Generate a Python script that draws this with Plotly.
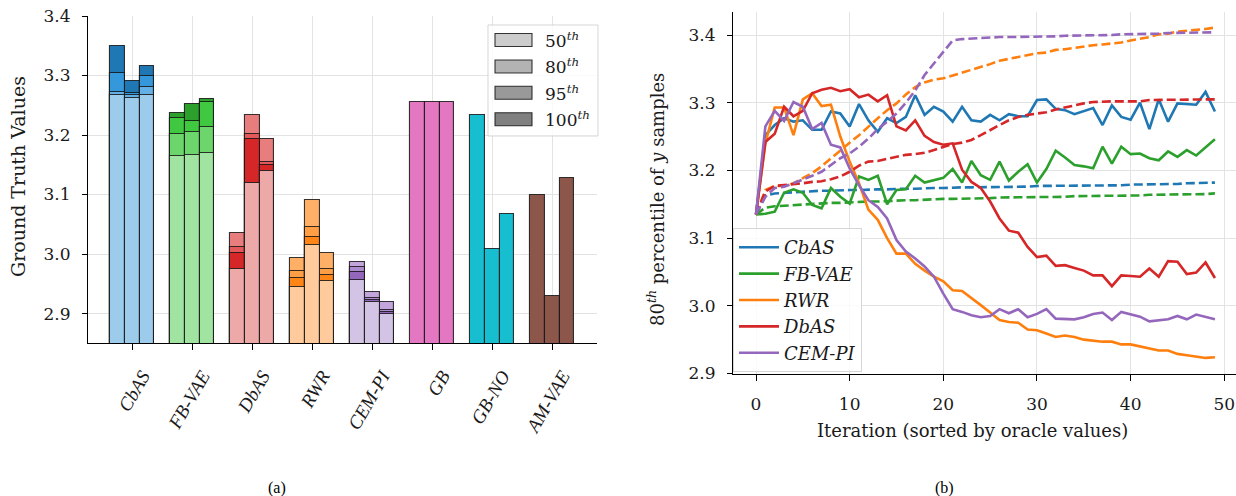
import plotly.graph_objects as go

# ---------------- data: panel (a) ----------------
methods = ["CbAS", "FB-VAE", "DbAS", "RWR", "CEM-PI", "GB", "GB-NO", "AM-VAE"]
pct_names = ["50<sup><i>th</i></sup>", "80<sup><i>th</i></sup>", "95<sup><i>th</i></sup>", "100<sup><i>th</i></sup>"]
# three runs per method, each [50th, 80th, 95th, 100th] percentile
cbas_runs = [[3.268, 3.272, 3.304, 3.349], [3.262, 3.267, 3.271, 3.290], [3.268, 3.280, 3.300, 3.316]]
fbvae_runs = [[3.164, 3.202, 3.229, 3.237], [3.166, 3.205, 3.224, 3.252], [3.170, 3.213, 3.256, 3.260]]
dbas_runs = [[2.975, 3.002, 3.012, 3.035], [3.119, 3.194, 3.202, 3.233], [3.140, 3.150, 3.154, 3.194]]
rwr_runs = [[2.945, 2.960, 2.972, 2.993], [3.016, 3.029, 3.045, 3.090], [2.954, 2.964, 2.975, 3.001]]
cempi_runs = [[2.956, 2.970, 2.978, 2.987], [2.920, 2.923, 2.926, 2.936], [2.900, 2.903, 2.906, 2.920]]
gb_runs = [3.255, 3.255, 3.255]
gbno_runs = [3.233, 3.009, 3.068]
amvae_runs = [3.100, 2.929, 3.128]

# ---------------- data: panel (b) ----------------
iterations = list(range(50))
cbas_solid = [3.135, 3.252, 3.267, 3.277, 3.272, 3.274, 3.260, 3.260, 3.287, 3.284,
              3.265, 3.298, 3.274, 3.257, 3.277, 3.270, 3.279, 3.311, 3.282, 3.294,
              3.287, 3.272, 3.294, 3.274, 3.272, 3.282, 3.274, 3.283, 3.280, 3.280,
              3.304, 3.305, 3.291, 3.289, 3.283, 3.287, 3.292, 3.267, 3.296, 3.279,
              3.275, 3.300, 3.261, 3.305, 3.272, 3.299, 3.298, 3.297, 3.316, 3.287]
cbas_dashed = [3.135, 3.163, 3.166, 3.167, 3.168, 3.169, 3.169, 3.170, 3.170, 3.171,
               3.171, 3.171, 3.172, 3.172, 3.172, 3.173, 3.173, 3.173, 3.174, 3.174,
               3.174, 3.175, 3.175, 3.175, 3.175, 3.176, 3.176, 3.176, 3.176, 3.176,
               3.177, 3.177, 3.177, 3.177, 3.177, 3.178, 3.178, 3.178, 3.178, 3.178,
               3.179, 3.179, 3.179, 3.180, 3.180, 3.180, 3.181, 3.181, 3.182, 3.182]
fbvae_solid = [3.135, 3.136, 3.139, 3.167, 3.172, 3.167, 3.149, 3.144, 3.174, 3.161,
               3.151, 3.191, 3.186, 3.192, 3.150, 3.171, 3.172, 3.192, 3.182, 3.185,
               3.189, 3.202, 3.182, 3.214, 3.193, 3.186, 3.213, 3.185, 3.198, 3.209,
               3.182, 3.202, 3.229, 3.219, 3.208, 3.206, 3.203, 3.235, 3.210, 3.235,
               3.224, 3.225, 3.218, 3.215, 3.228, 3.220, 3.230, 3.222, 3.234, 3.246]
fbvae_dashed = [3.135, 3.145, 3.147, 3.148, 3.149, 3.150, 3.150, 3.151, 3.152, 3.152,
                3.153, 3.153, 3.154, 3.154, 3.155, 3.155, 3.156, 3.156, 3.157, 3.157,
                3.158, 3.158, 3.158, 3.159, 3.159, 3.159, 3.160, 3.160, 3.160, 3.160,
                3.161, 3.161, 3.161, 3.161, 3.162, 3.162, 3.162, 3.162, 3.163, 3.163,
                3.163, 3.163, 3.164, 3.164, 3.164, 3.164, 3.165, 3.165, 3.165, 3.166]
rwr_solid = [3.135, 3.240, 3.293, 3.293, 3.252, 3.305, 3.314, 3.295, 3.297, 3.250,
             3.213, 3.181, 3.142, 3.127, 3.100, 3.077, 3.077, 3.062, 3.052, 3.043,
             3.036, 3.023, 3.022, 3.012, 3.001, 2.990, 2.979, 2.976, 2.975, 2.965,
             2.964, 2.959, 2.954, 2.956, 2.954, 2.950, 2.948, 2.947, 2.947, 2.943,
             2.943, 2.940, 2.937, 2.934, 2.934, 2.929, 2.927, 2.925, 2.923, 2.924]
rwr_dashed = [3.135, 3.171, 3.177, 3.177, 3.181, 3.188, 3.196, 3.206, 3.218, 3.230,
              3.241, 3.252, 3.265, 3.277, 3.289, 3.299, 3.312, 3.323, 3.330, 3.334,
              3.336, 3.340, 3.344, 3.348, 3.352, 3.357, 3.362, 3.365, 3.368, 3.370,
              3.373, 3.374, 3.378, 3.379, 3.381, 3.384, 3.385, 3.386, 3.387, 3.389,
              3.392, 3.394, 3.397, 3.401, 3.402, 3.405, 3.406, 3.408, 3.409, 3.411]
dbas_solid = [3.135, 3.242, 3.254, 3.294, 3.280, 3.288, 3.314, 3.319, 3.322, 3.317,
              3.320, 3.308, 3.312, 3.302, 3.311, 3.265, 3.259, 3.274, 3.251, 3.242,
              3.238, 3.240, 3.201, 3.183, 3.174, 3.154, 3.129, 3.111, 3.108, 3.087,
              3.072, 3.074, 3.059, 3.060, 3.056, 3.052, 3.045, 3.045, 3.029, 3.045,
              3.044, 3.043, 3.055, 3.043, 3.066, 3.065, 3.047, 3.049, 3.064, 3.041]
dbas_dashed = [3.135, 3.169, 3.177, 3.178, 3.179, 3.181, 3.183, 3.184, 3.187, 3.191,
               3.198, 3.207, 3.213, 3.214, 3.217, 3.220, 3.223, 3.224, 3.226, 3.230,
               3.234, 3.239, 3.241, 3.245, 3.252, 3.260, 3.267, 3.274, 3.279, 3.282,
               3.284, 3.286, 3.290, 3.293, 3.297, 3.299, 3.301, 3.302, 3.302, 3.302,
               3.302, 3.302, 3.304, 3.304, 3.304, 3.304, 3.305, 3.305, 3.305, 3.305]
cempi_solid = [3.135, 3.265, 3.288, 3.273, 3.301, 3.294, 3.261, 3.270, 3.238, 3.234,
               3.203, 3.178, 3.156, 3.146, 3.129, 3.097, 3.080, 3.070, 3.058, 3.043,
               3.018, 2.995, 2.991, 2.986, 2.983, 2.985, 2.995, 2.989, 2.995, 2.983,
               2.988, 2.995, 2.981, 2.981, 2.980, 2.983, 2.988, 2.990, 2.979, 2.991,
               2.987, 2.984, 2.977, 2.979, 2.980, 2.985, 2.980, 2.987, 2.983, 2.980]
cempi_dashed = [3.135, 3.161, 3.174, 3.176, 3.181, 3.186, 3.192, 3.198, 3.208, 3.218,
                3.225, 3.235, 3.247, 3.261, 3.272, 3.284, 3.300, 3.318, 3.341, 3.358,
                3.375, 3.392, 3.394, 3.395, 3.396, 3.396, 3.397, 3.397, 3.397, 3.398,
                3.398, 3.398, 3.398, 3.399, 3.399, 3.399, 3.400, 3.400, 3.400, 3.401,
                3.401, 3.402, 3.402, 3.402, 3.403, 3.403, 3.403, 3.404, 3.404, 3.404]
yticks_a = [2.9, 3.0, 3.1, 3.2, 3.3, 3.4]
yticks_b = [2.9, 3.0, 3.1, 3.2, 3.3, 3.4]
xticks_b = [0, 10, 20, 30, 40, 50]

# ---------------- styles ----------------
W, H = 1236, 496
def px(x):
    return x / W
def py(y):
    return 1 - y / H

pct_colors = {  # per method: [50th, 80th, 95th, 100th]
    "CbAS": ["#9dcbeb", "#62b0e5", "#3498db", "#1f77b4"],
    "FB-VAE": ["#a1e4a1", "#6cd56c", "#40c940", "#2ca02c"],
    "DbAS": ["#eda8a8", "#d62728", "#e35858", "#e87d7d"],
    "RWR": ["#ffcb9d", "#ff8517", "#ff9e45", "#ffb066"],
    "CEM-PI": ["#d3c3e5", "#9467bd", "#ae8bd1", "#c3a5db"],
}
single_colors = {"GB": "#e377c2", "GB-NO": "#17becf", "AM-VAE": "#8c564b"}
legend_grays = ["#cccccc", "#b3b3b3", "#999999", "#808080"]
edge = "rgba(20,20,20,0.85)"
serif = "DejaVu Serif"
txt = "#1a1a1a"
grid = "#e3e3e3"

fig = go.Figure()

bw = 0.245
offs = [-bw, 0.0, bw]
pct_runs = [cbas_runs, fbvae_runs, dbas_runs, rwr_runs, cempi_runs]
for p in [3, 2, 1, 0]:
    xs, ys, cols = [], [], []
    for mi, runs in enumerate(pct_runs):
        for r in range(3):
            xs.append(mi + offs[r])
            ys.append(runs[r][p])
            cols.append(pct_colors[methods[mi]][p])
    fig.add_trace(go.Bar(x=xs, y=ys, width=bw, xaxis="x", yaxis="y", showlegend=False,
                         marker=dict(color=cols, line=dict(color=edge, width=1.1))))

xs, ys, cols = [], [], []
for mi, vals in zip([5, 6, 7], [gb_runs, gbno_runs, amvae_runs]):
    for r in range(3):
        xs.append(mi + offs[r])
        ys.append(vals[r])
        cols.append(single_colors[methods[mi]])
fig.add_trace(go.Bar(x=xs, y=ys, width=bw, xaxis="x", yaxis="y", showlegend=False,
                     marker=dict(color=cols, line=dict(color=edge, width=1.1))))

# ---------------- panel (b) lines ----------------
series = [("CbAS", "#1f77b4", cbas_solid, cbas_dashed),
          ("FB-VAE", "#2ca02c", fbvae_solid, fbvae_dashed),
          ("RWR", "#ff7f0e", rwr_solid, rwr_dashed),
          ("DbAS", "#d62728", dbas_solid, dbas_dashed),
          ("CEM-PI", "#9467bd", cempi_solid, cempi_dashed)]
for name, col, solid, dashed in series:
    fig.add_trace(go.Scatter(x=iterations, y=solid, mode="lines", name=name,
                             line=dict(color=col, width=2.6), xaxis="x2", yaxis="y2"))
    fig.add_trace(go.Scatter(x=iterations, y=dashed, mode="lines", name=name, showlegend=False,
                             line=dict(color=col, width=2.6, dash="9px,4px"), xaxis="x2", yaxis="y2"))

axis_common = dict(showline=True, linecolor="black", linewidth=1.2, ticks="outside",
                   tickcolor="black", tickwidth=1.2, showgrid=True,
                   gridcolor=grid, gridwidth=1.2, zeroline=False, automargin=False)

fig.update_layout(
    width=W, height=H, margin=dict(l=0, r=0, t=0, b=0),
    paper_bgcolor="white", plot_bgcolor="white", barmode="overlay", bargap=0,
    font=dict(family=serif, size=17, color=txt),
    xaxis=dict(domain=[px(88), px(597)], range=[-0.738, 7.745], anchor="y",
               tickmode="array", tickvals=list(range(len(methods))), ticktext=methods,
               tickangle=-60, ticklen=6, ticklabelshift=10, ticklabelstandoff=7,
               tickfont=dict(family="Liberation Serif", size=19, style="italic", color=txt),
               **axis_common),
    yaxis=dict(domain=[py(343.3), py(16)], range=[2.85, 3.4], anchor="x",
               tickmode="array", tickvals=yticks_a, ticktext=[f"{v:.1f}" for v in yticks_a],
               ticklen=5, ticklabelstandoff=8, tickfont=dict(family=serif, size=17, color=txt),
               **axis_common),
    xaxis2=dict(domain=[px(733), 1.0], range=[-2.456, 51.25], anchor="y2",
                tickmode="array", tickvals=xticks_b, ticktext=[str(v) for v in xticks_b],
                ticklen=6, ticklabelstandoff=8, tickfont=dict(family=serif, size=17, color=txt),
                **axis_common),
    yaxis2=dict(domain=[py(374.3), py(12)], range=[2.8988, 3.434], anchor="x2",
                tickmode="array", tickvals=yticks_b, ticktext=[f"{v:.1f}" for v in yticks_b],
                ticklen=5, ticklabelstandoff=8, tickfont=dict(family=serif, size=17, color=txt),
                **axis_common),
    legend=dict(x=px(733), y=py(228), xanchor="left", yanchor="top",
                bgcolor="rgba(255,255,255,0.8)", bordercolor="rgba(204,204,204,0.8)",
                borderwidth=1, font=dict(family=serif, size=18, style="italic", color=txt),
                itemwidth=40, tracegroupgap=0),
)

# ---------------- manual percentile legend (panel a) ----------------
shapes = [dict(type="rect", xref="paper", yref="paper", x0=px(488), x1=px(598),
               y0=py(136), y1=py(25), fillcolor="rgba(255,255,255,0.8)",
               line=dict(color="rgba(204,204,204,0.8)", width=1), layer="above")]
rows = [40, 66.5, 92.7, 119.3]
annotations = []
for k, (ry, g, lab) in enumerate(zip(rows, legend_grays, pct_names)):
    shapes.append(dict(type="rect", xref="paper", yref="paper", x0=px(495), x1=px(532),
                       y0=py(ry + 6.5), y1=py(ry - 6.5), fillcolor=g,
                       line=dict(color=edge, width=1.1), layer="above"))
    annotations.append(dict(xref="paper", yref="paper", x=px(543), y=py(ry), text=lab,
                            showarrow=False, xanchor="left", yanchor="middle",
                            font=dict(family=serif, size=17, color=txt)))

annotations += [
    dict(xref="paper", yref="paper", x=px(18), y=py(177), text="Ground Truth Values",
         textangle=-90, showarrow=False, xanchor="center", yanchor="middle",
         font=dict(family=serif, size=19, color=txt)),
    dict(xref="paper", yref="paper", x=px(656), y=py(200),
         text="80<sup><i>th</i></sup> percentile of <i>y</i> samples",
         textangle=-90, showarrow=False, xanchor="center", yanchor="middle",
         font=dict(family=serif, size=18, color=txt)),
    dict(xref="paper", yref="paper", x=px(973), y=py(430),
         text="Iteration (sorted by oracle values)", showarrow=False,
         xanchor="center", yanchor="middle", font=dict(family=serif, size=18, color=txt)),
    dict(xref="paper", yref="paper", x=px(277), y=py(488), text="(a)", showarrow=False,
         xanchor="center", yanchor="middle", font=dict(family="Liberation Serif", size=16, color="black")),
    dict(xref="paper", yref="paper", x=px(944), y=py(488), text="(b)", showarrow=False,
         xanchor="center", yanchor="middle", font=dict(family="Liberation Serif", size=16, color="black")),
]
fig.update_layout(shapes=shapes, annotations=annotations)

fig.write_html("out.html", config={"displayModeBar": False},
               post_script="document.body.style.margin='0px';document.body.style.overflow='hidden';")
